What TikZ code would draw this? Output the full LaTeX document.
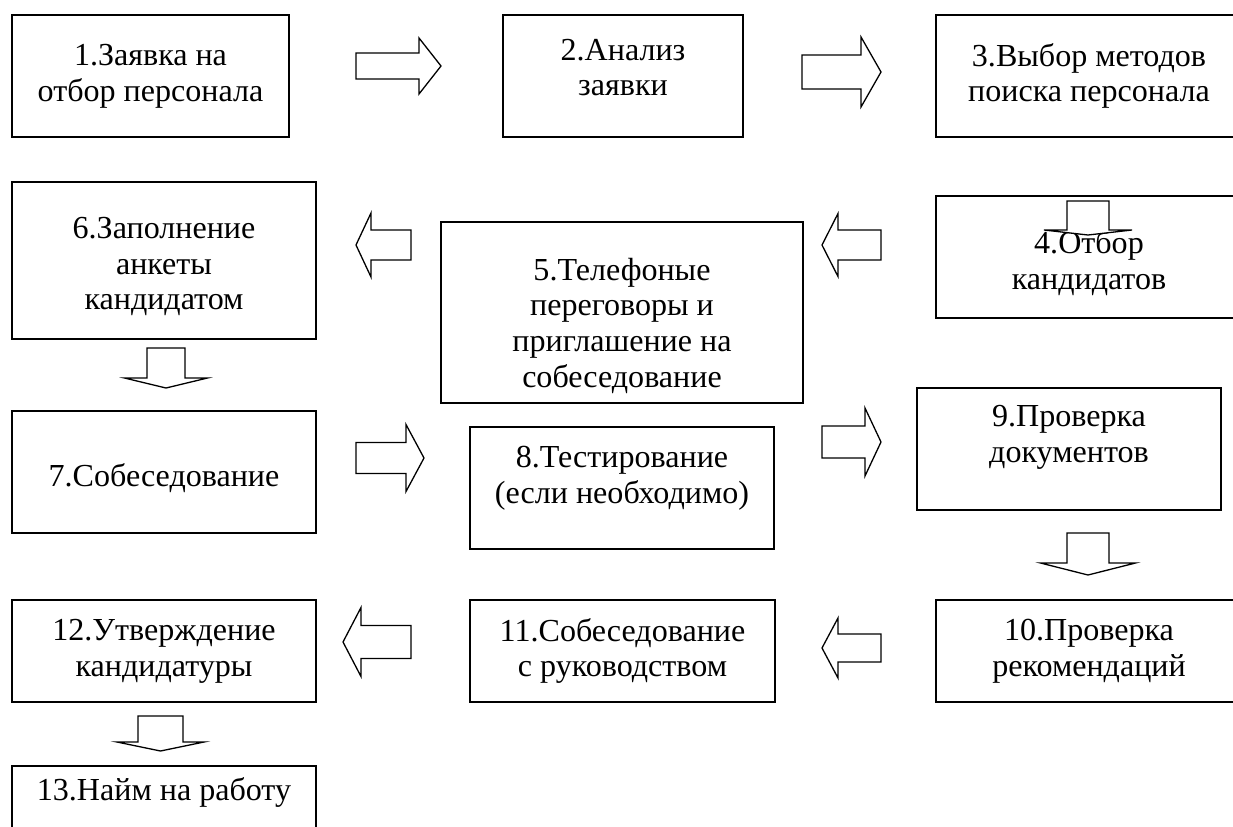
\documentclass[tikz,border=0pt]{standalone}
\usepackage{fontspec}
\setmainfont{Liberation Serif}

% hollow block arrow pointing right: length, shaft width, head width, head length
\tikzset{
  pics/blockarrow/.style n args={4}{code={
    \path[arrowshape] (-#1/2,-#2/2) -- (#1/2-#4,-#2/2) -- (#1/2-#4,-#3/2) -- (#1/2,0)
      -- (#1/2-#4,#3/2) -- (#1/2-#4,#2/2) -- (-#1/2,#2/2) -- cycle;
  }}
}

\begin{document}
\begin{tikzpicture}[x=0.016221cm, y=-0.016221cm]
		% Define node styles
		\tikzstyle{stage} = [rectangle, draw, line width=0.8pt, align=center, inner sep=0pt, font=\fontsize{14.8pt}{16.5pt}\selectfont];
		\tikzstyle{arrowshape} = [draw, fill=white, line width=0.6pt];
		
		\useasboundingbox (0,0) rectangle (1233,826);
		\clip (0,0) rectangle (1233,826);
		
		% First row
		\node[stage, minimum width=4.493cm, minimum height=1.979cm] (zayavka) at (150.5,76) {1.Заявка на\\отбор персонала};
		\node[stage, minimum width=3.893cm, minimum height=1.979cm, text depth=8pt] (analiz) at (623,76) {2.Анализ\\заявки};
		\node[stage, minimum width=4.964cm, minimum height=1.979cm] (metody) at (1089,76) {3.Выбор методов\\поиска персонала};
		
		% Second row
		\node[stage, minimum width=4.964cm, minimum height=1.979cm, text height=33pt] (otbor) at (1089,257) {4.Отбор\\кандидатов};
		\node[stage, minimum width=5.872cm, minimum height=2.936cm, text height=72pt] (peregovory) at (622,312.5) {5.Телефоные\\переговоры и\\приглашение на\\собеседование};
		\node[stage, minimum width=4.931cm, minimum height=2.547cm, text height=48.5pt] (anketa) at (164,260.5) {6.Заполнение\\анкеты\\кандидатом};
		
		% Third row
		\node[stage, minimum width=4.931cm, minimum height=1.979cm, text height=16pt, text depth=3pt] (sobes) at (164,472) {7.Собеседование};
		\node[stage, minimum width=4.931cm, minimum height=1.979cm, text depth=12pt] (test) at (622,488) {8.Тестирование\\(если необходимо)};
		\node[stage, minimum width=4.931cm, minimum height=1.979cm, text depth=14pt] (dokumenty) at (1069,449) {9.Проверка\\документов};
		
		% Fourth row
		\node[stage, minimum width=4.964cm, minimum height=1.655cm] (rekomend) at (1089,651) {10.Проверка\\рекомендаций};
		\node[stage, minimum width=4.947cm, minimum height=1.655cm] (rukovod) at (622.5,651) {11.Собеседование\\с руководством};
		\node[stage, minimum width=4.931cm, minimum height=1.655cm] (utverzhd) at (164,651) {12.Утверждение\\кандидатуры};
		
		% Last step
		\node[stage, minimum width=4.931cm, minimum height=1.525cm, text height=10pt, text depth=22pt] (naym) at (164,813) {13.Найм на работу};
		
		% Block arrows between the steps
		\pic at (398.5,66) {blockarrow={85}{26}{56}{22}};
		\pic at (841.5,72) {blockarrow={79}{34}{70}{20}};
		\pic[rotate=-90] at (1088,218) {blockarrow={34}{42}{88}{5}};
		\pic[rotate=180] at (851.5,245) {blockarrow={59}{30}{63}{16}};
		\pic[rotate=180] at (383.5,245) {blockarrow={55}{30}{64}{15}};
		\pic[rotate=-90] at (166,368) {blockarrow={40}{38}{83}{10}};
		\pic at (390,458) {blockarrow={68}{31}{67}{18}};
		\pic at (851.5,442) {blockarrow={59}{32}{68}{16}};
		\pic[rotate=-90] at (1088,554) {blockarrow={42}{42}{95}{12}};
		\pic[rotate=180] at (851.5,648) {blockarrow={59}{28}{60}{16}};
		\pic[rotate=180] at (377,642) {blockarrow={68}{33}{69}{18}};
		\pic[rotate=-90] at (160.5,733.5) {blockarrow={35}{45}{87}{9}};
	\end{tikzpicture}
\end{document}
